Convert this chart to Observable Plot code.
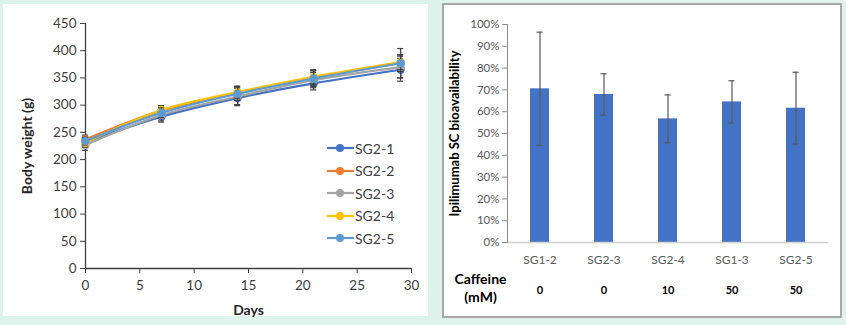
<!DOCTYPE html>
<html><head><meta charset="utf-8">
<script src="https://cdn.jsdelivr.net/npm/d3@7"></script>
<script src="https://cdn.jsdelivr.net/npm/@observablehq/plot@0.6"></script>
<style>
body{margin:0;background:#ddf3ec;width:846px;height:325px;overflow:hidden;position:relative;font-family:Lato,sans-serif}
#left{position:absolute;left:3px;top:4px;width:425px;height:312px;background:#fff}
#right{position:absolute;left:442px;top:3px;width:400px;height:315px;background:#fff;border:2px solid #a9a9a9;box-sizing:border-box}
#legend{position:absolute;left:327px;top:137px;font-family:Lato,sans-serif;font-size:14px;color:#404040}
#legend .row{display:flex;align-items:center;height:22.5px}
#legend svg{margin-right:1px}
svg{display:block}
</style></head>
<body>
<div id="left"></div>
<div id="right"></div>
<div id="legend"></div>
<script>
// ---- Left chart data ----
const days = [0, 7, 14, 21, 29];
const seriesNames = ["SG2-1", "SG2-2", "SG2-3", "SG2-4", "SG2-5"];
const seriesColors = ["#4472c4", "#ed7d31", "#a5a5a5", "#ffc000", "#5b9bd5"];
const sg21 = [232, 279, 313, 340, 365];
const sg22 = [237, 290, 322, 350, 377];
const sg23 = [227, 282, 316, 346, 370];
const sg24 = [231, 291, 324, 352, 379];
const sg25 = [234, 286, 321, 349, 377];
const sg21sd = [9, 10, 14, 12, 21];
const sg22sd = [8, 9, 12, 13, 15];
const sg23sd = [10, 11, 15, 14, 20];
const sg24sd = [8, 8, 11, 13, 14];
const sg25sd = [7, 9, 12, 15, 27];
const xTicks = [0, 5, 10, 15, 20, 25, 30];
const yTicks = [0, 50, 100, 150, 200, 250, 300, 350, 400, 450];

// ---- Right chart data ----
const groups = ["SG1-2", "SG2-3", "SG2-4", "SG1-3", "SG2-5"];
const bioavail = [0.705, 0.679, 0.567, 0.645, 0.616];
const bioErr = [0.26, 0.095, 0.11, 0.097, 0.165];
const caffeine = ["0", "0", "10", "50", "50"];
const pctTicks = [0, 0.1, 0.2, 0.3, 0.4, 0.5, 0.6, 0.7, 0.8, 0.9, 1.0];

const allVals = [sg21, sg22, sg23, sg24, sg25];
const allSd = [sg21sd, sg22sd, sg23sd, sg24sd, sg25sd];
const rows = [];
seriesNames.forEach((s, i) => days.forEach((d, j) => rows.push({series: s, day: d, w: allVals[i][j], sd: allSd[i][j]})));

const axisColor = "#404040";
const left = Plot.plot({
  width: 425, height: 312,
  marginLeft: 82, marginRight: 17, marginTop: 19, marginBottom: 48,
  style: {fontFamily: "Lato, sans-serif", fontSize: "13.5px", color: axisColor, background: "transparent", overflow: "visible"},
  x: {domain: [0, 30]},
  y: {domain: [0, 450]},
  color: {domain: seriesNames, range: seriesColors},
  marks: [
    Plot.axisY({ticks: yTicks, tickSize: 5, tickPadding: 4, label: null}),
    Plot.axisX({ticks: xTicks, tickSize: 5, tickPadding: 7, label: null}),
    Plot.ruleX([0], {stroke: axisColor, strokeWidth: 1.3}),
    Plot.ruleY([0], {stroke: axisColor, strokeWidth: 1.3}),
    ...seriesNames.map(s => [
      Plot.line(rows.filter(r => r.series === s), {x: "day", y: "w", stroke: "series", curve: "catmull-rom", strokeWidth: 2.2}),
      Plot.ruleX(rows.filter(r => r.series === s), {x: "day", y1: d => d.w - d.sd, y2: d => d.w + d.sd, stroke: axisColor, strokeWidth: 1.2}),
      Plot.ruleY(rows.filter(r => r.series === s), {y: d => d.w + d.sd, x1: "day", x2: "day", insetLeft: -3, insetRight: -3, stroke: axisColor, strokeWidth: 1.2}),
      Plot.ruleY(rows.filter(r => r.series === s), {y: d => d.w - d.sd, x1: "day", x2: "day", insetLeft: -3, insetRight: -3, stroke: axisColor, strokeWidth: 1.2}),
      Plot.dot(rows.filter(r => r.series === s), {x: "day", y: "w", fill: "series", r: 4.2})
    ]),
    Plot.text(["Days"], {frameAnchor: "bottom", dy: 42, textAnchor: "middle", lineAnchor: "middle", fontWeight: "bold", fontSize: 14, fill: "#262626"}),
    Plot.text(["Body weight (g)"], {frameAnchor: "left", rotate: -90, dx: -58, textAnchor: "middle", lineAnchor: "middle", fontWeight: "bold", fontSize: 14, fill: "#262626"})
  ]
});
document.getElementById("left").appendChild(left);

// legend
const lg = document.getElementById("legend");
seriesNames.forEach((s, i) => {
  const row = document.createElement("div");
  row.className = "row";
  row.innerHTML = `<svg width="27" height="10"><line x1="0" y1="5" x2="27" y2="5" stroke="${seriesColors[i]}" stroke-width="2.2"/><circle cx="13" cy="5" r="4" fill="${seriesColors[i]}"/></svg><span>${s}</span>`;
  lg.appendChild(row);
});

const bars = groups.map((g, i) => ({g, v: bioavail[i], e: bioErr[i], c: caffeine[i]}));
const right = Plot.plot({
  width: 396, height: 311,
  marginLeft: 63, marginRight: 12, marginTop: 19, marginBottom: 74,
  style: {fontFamily: "Lato, sans-serif", fontSize: "11.5px", color: "#595959", background: "transparent", overflow: "visible"},
  x: {domain: groups, paddingInner: 0.7, paddingOuter: 0.35},
  y: {domain: [0, 1]},
  marks: [
    Plot.barY(bars, {x: "g", y: "v", fill: "#4472c4"}),
    Plot.ruleY([0], {stroke: "#d0d0d0", strokeWidth: 1.3}),
    Plot.frame({anchor: "left", stroke: "#8c8c8c"}),
    Plot.axisY({ticks: pctTicks, tickFormat: d3.format(".0%"), tickSize: 5, tickPadding: 3, stroke: "#8c8c8c", label: null}),
    Plot.axisX({tickSize: 0, tickPadding: 13, label: null, fontSize: 12}),
    Plot.ruleX(bars, {x: "g", y1: d => d.v - d.e, y2: d => d.v + d.e, stroke: "#595959", strokeWidth: 1.2}),
    Plot.tickY(bars, {x: "g", y: d => d.v + d.e, insetLeft: 6.5, insetRight: 6.5, stroke: "#595959", strokeWidth: 1.2}),
    Plot.tickY(bars, {x: "g", y: d => d.v - d.e, insetLeft: 6.5, insetRight: 6.5, stroke: "#595959", strokeWidth: 1.2}),
    Plot.text(bars, {x: "g", text: "c", frameAnchor: "bottom", dy: 51, fontWeight: "bold", fontSize: 11, fill: "#000"}),
    Plot.text(["Caffeine\n(mM)"], {frameAnchor: "bottom-left", dx: -27, dy: 45, textAnchor: "middle", lineAnchor: "middle", lineHeight: 1.22, fontWeight: "bold", fontSize: 14, fill: "#000"}),
    Plot.text(["Ipilimumab SC bioavailability"], {frameAnchor: "left", rotate: -90, dx: -53, textAnchor: "middle", lineAnchor: "middle", fontWeight: "bold", fontSize: 13, fill: "#000"})
  ]
});
document.getElementById("right").appendChild(right);
</script>
</body></html>
